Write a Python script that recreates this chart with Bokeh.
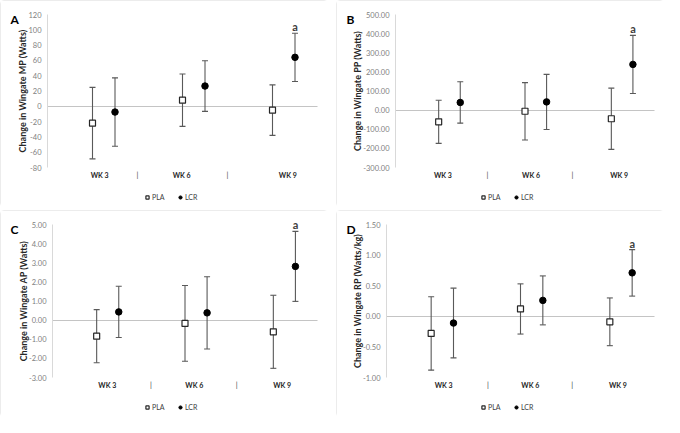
from bokeh.plotting import figure
from bokeh.models import (ColumnDataSource, Whisker, TeeHead, Range1d, FixedTicker,
                          NumeralTickFormatter, LinearAxis, Label, Legend, LegendItem)
from bokeh.layouts import row, column
from bokeh.embed import file_html
from bokeh.resources import INLINE
from bokeh.core.properties import value

# ---------------- data ----------------
WEEKS = ["WK 3", "WK 6", "WK 9"]
GROUPS = ["PLA", "LCR"]
SEPARATOR = "|"
SIG_TEXT = "a"          # significance mark on LCR, WK 9
SIG_INDEX = 2

MP_PLA_MEAN = [-22.0, 8.0, -5.0]
MP_PLA_SD = [46.7, 34.2, 33.0]
MP_LCR_MEAN = [-7.5, 26.5, 64.0]
MP_LCR_SD = [44.7, 33.1, 31.5]

PP_PLA_MEAN = [-61.0, -6.0, -45.0]
PP_PLA_SD = [113.0, 150.0, 160.0]
PP_LCR_MEAN = [40.0, 43.0, 239.0]
PP_LCR_SD = [108.0, 144.0, 152.0]

AP_PLA_MEAN = [-0.84, -0.17, -0.61]
AP_PLA_SD = [1.39, 1.98, 1.91]
AP_LCR_MEAN = [0.43, 0.38, 2.81]
AP_LCR_SD = [1.34, 1.89, 1.83]

RP_PLA_MEAN = [-0.28, 0.12, -0.09]
RP_PLA_SD = [0.60, 0.41, 0.39]
RP_LCR_MEAN = [-0.11, 0.26, 0.71]
RP_LCR_SD = [0.57, 0.40, 0.38]

# ---------------- style ----------------
FONT = "Lato"
W, H = 328, 207
PLOT_TOP, PLOT_BOTTOM = 14, 40        # px between panel edge and plotting area
LCR_OFFSET = 0.25
ERR_COLOR = "#595959"
LEGEND_POS = (143, 6)                 # px from panel bottom-left
LETTER_POS = (10, H - 19)


def _plain_axis(ax):
    ax.major_tick_line_color = None
    ax.minor_tick_line_color = None
    ax.major_tick_out = 0
    ax.major_tick_in = 0
    ax.minor_tick_out = 0
    ax.minor_tick_in = 0


def make_panel(letter, ytitle, pla_m, pla_sd, lcr_m, lcr_sd,
               y0, y1, step, fmt, plot_left, plot_right, week_pos, sep_pos):
    n_cat = len(WEEKS)
    c0, c1 = 0.5, n_cat + 0.5
    kx = (W - plot_left - plot_right) / (c1 - c0)
    ky = (H - PLOT_TOP - PLOT_BOTTOM) / (y1 - y0)
    p = figure(width=W, height=H, output_backend="svg", toolbar_location=None,
               x_range=Range1d(c0 - plot_left / kx, c1 + plot_right / kx),
               y_range=Range1d(y0 - PLOT_BOTTOM / ky, y1 + PLOT_TOP / ky),
               min_border_left=0, min_border_right=0,
               min_border_top=0, min_border_bottom=0)
    p.grid.visible = False
    p.outline_line_color = None
    p.background_fill_color = "white"
    p.border_fill_color = "white"
    p.styles = {"outline": "1px solid #d9d9d9", "outline-offset": "-1px",
                "border-radius": "4px"}

    # y axis (drawn at the left edge of the category range)
    n = int(round((y1 - y0) / step))
    yax = p.yaxis[0]
    yax.fixed_location = c0
    yax.bounds = (y0, y1)
    yax.ticker = FixedTicker(ticks=[round(y0 + k * step, 6) for k in range(n + 1)])
    yax.formatter = NumeralTickFormatter(format=fmt)
    yax.axis_line_color = "#d9d9d9"
    _plain_axis(yax)
    yax.major_label_text_color = "#808080"
    yax.major_label_text_font = FONT
    yax.major_label_text_font_size = "7.5px"
    yax.major_label_standoff = 6
    yax.axis_label = ytitle
    yax.axis_label_text_font = FONT
    yax.axis_label_text_font_style = "bold"
    yax.axis_label_text_font_size = "9px"
    yax.axis_label_text_color = "#262626"
    yax.axis_label_standoff = -3

    # x axis: week labels at the bottom of the value range
    xax = p.xaxis[0]
    xax.fixed_location = y0
    xax.ticker = FixedTicker(ticks=list(week_pos))
    xax.major_label_overrides = {t: wk for t, wk in zip(week_pos, WEEKS)}
    xax.axis_line_color = None
    _plain_axis(xax)
    xax.major_label_text_font = FONT
    xax.major_label_text_font_style = "bold"
    xax.major_label_text_font_size = "7px"
    xax.major_label_text_color = "#262626"
    xax.major_label_standoff = 3

    # separators between week labels
    sep_ax = LinearAxis(fixed_location=y0, ticker=FixedTicker(ticks=list(sep_pos)),
                        major_label_overrides={t: SEPARATOR for t in sep_pos},
                        axis_line_color=None, major_label_standoff=3,
                        major_label_text_font=FONT, major_label_text_font_size="7.5px",
                        major_label_text_color="#404040")
    _plain_axis(sep_ax)
    p.add_layout(sep_ax, "below")

    # horizontal axis line crossing at zero
    zero_axis = LinearAxis(fixed_location=0, bounds=(c0, c1),
                           ticker=FixedTicker(ticks=[]),
                           axis_line_color="#c4c4c4", axis_line_width=1.1,
                           level="underlay")
    _plain_axis(zero_axis)
    p.add_layout(zero_axis, "below")

    xs = [i + 1 for i in range(n_cat)]
    src_pla = ColumnDataSource(dict(
        x=xs, y=pla_m,
        upper=[m + s for m, s in zip(pla_m, pla_sd)],
        lower=[m - s for m, s in zip(pla_m, pla_sd)]))
    src_lcr = ColumnDataSource(dict(
        x=[x + LCR_OFFSET for x in xs], y=lcr_m,
        upper=[m + s for m, s in zip(lcr_m, lcr_sd)],
        lower=[m - s for m, s in zip(lcr_m, lcr_sd)]))

    for src in (src_pla, src_lcr):
        w = Whisker(source=src, base="x", upper="upper", lower="lower",
                    line_color=ERR_COLOR, line_width=1.1, level="underlay",
                    upper_head=TeeHead(size=6, line_color=ERR_COLOR, line_width=1.1),
                    lower_head=TeeHead(size=6, line_color=ERR_COLOR, line_width=1.1))
        p.add_layout(w)

    r_pla = p.scatter("x", "y", source=src_pla, marker="square", size=6,
                      fill_color="white", line_color="#262626", line_width=1.2)
    r_lcr = p.scatter("x", "y", source=src_lcr, marker="circle", size=6.5,
                      fill_color="black", line_color="black")

    # significance mark
    p.text(x=[src_lcr.data["x"][SIG_INDEX]], y=[src_lcr.data["upper"][SIG_INDEX]],
           text=[SIG_TEXT], text_align="center", text_baseline="bottom",
           y_offset=0, text_font=value(FONT), text_font_style="bold",
           text_font_size="11px", text_color="#404040")

    # panel letter
    p.add_layout(Label(x=LETTER_POS[0], y=LETTER_POS[1], x_units="screen",
                       y_units="screen", text=letter, text_font=FONT,
                       text_font_style="bold", text_font_size="12px",
                       text_baseline="middle", text_align="left",
                       text_color="black"))

    legend = Legend(items=[LegendItem(label=GROUPS[0], renderers=[r_pla]),
                           LegendItem(label=GROUPS[1], renderers=[r_lcr])],
                    orientation="horizontal", location=LEGEND_POS,
                    border_line_color=None, background_fill_alpha=0,
                    label_text_font=FONT, label_text_font_size="7px",
                    label_text_color="#404040", glyph_width=8, glyph_height=8,
                    label_height=8, label_standoff=1, spacing=4, padding=0,
                    margin=0)
    p.add_layout(legend, "center")
    return p


pA = make_panel("A", "Change in Wingate MP (Watts)", MP_PLA_MEAN, MP_PLA_SD,
                MP_LCR_MEAN, MP_LCR_SD, -80, 120, 20, "0", 47, 11,
                (1.08, 1.99, 3.17), (1.5, 2.5))
pB = make_panel("B", "Change in Wingate PP (Watts)", PP_PLA_MEAN, PP_PLA_SD,
                PP_LCR_MEAN, PP_LCR_SD, -300, 500, 100, "0.00", 59, 10,
                (1.05, 2.07, 3.09), (1.565, 2.55))
pC = make_panel("C", "Change in Wingate AP (Watts)", AP_PLA_MEAN, AP_PLA_SD,
                AP_LCR_MEAN, AP_LCR_SD, -3, 5, 1, "0.00", 52, 11,
                (1.12, 2.105, 3.10), (1.615, 2.585))
pD = make_panel("D", "Change in Wingate RP (Watts/kg)", RP_PLA_MEAN, RP_PLA_SD,
                RP_LCR_MEAN, RP_LCR_SD, -1, 1.5, 0.5, "0.00", 50, 10,
                (1.14, 2.11, 3.09), (1.636, 2.58))

layout = column(row(pA, pB, spacing=8), row(pC, pD, spacing=8), spacing=3)

open("out.html", "w").write(file_html(layout, INLINE))
